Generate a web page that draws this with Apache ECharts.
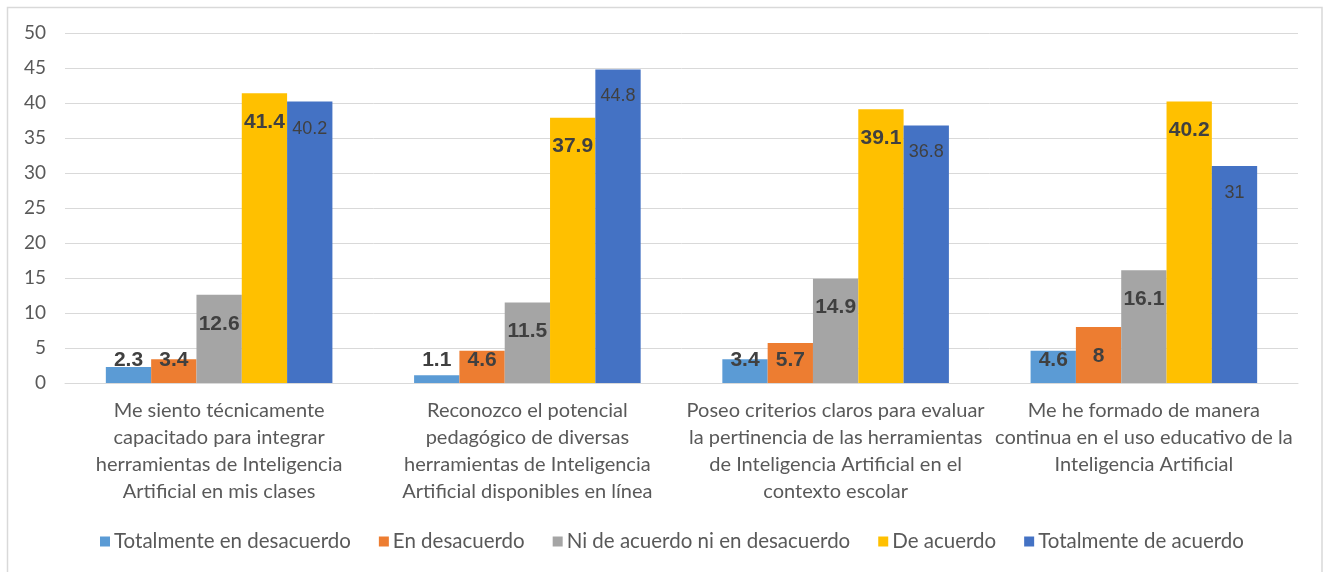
<!DOCTYPE html>
<html>
<head>
<meta charset="utf-8">
<script src="https://cdn.jsdelivr.net/npm/echarts@6/dist/echarts.min.js"></script>
<style>
html,body{margin:0;padding:0;background:#fff;}
#chart{width:1325px;height:572px;}
</style>
</head>
<body>
<div id="chart"></div>
<script>
const categories = [
  "Me siento técnicamente\ncapacitado para integrar\nherramientas de Inteligencia\nArtificial en mis clases",
  "Reconozco el potencial\npedagógico de diversas\nherramientas de Inteligencia\nArtificial disponibles en línea",
  "Poseo criterios claros para evaluar\nla pertinencia de las herramientas\nde Inteligencia Artificial en el\ncontexto escolar",
  "Me he formado de manera\ncontinua en el uso educativo de la\nInteligencia Artificial"
];
const seriesNames = [
  "Totalmente en desacuerdo",
  "En desacuerdo",
  "Ni de acuerdo ni en desacuerdo",
  "De acuerdo",
  "Totalmente de acuerdo"
];
const totalmenteDesacuerdo = [2.3, 1.1, 3.4, 4.6];
const enDesacuerdo = [3.4, 4.6, 5.7, 8];
const niNi = [12.6, 11.5, 14.9, 16.1];
const deAcuerdo = [41.4, 37.9, 39.1, 40.2];
const totalmenteAcuerdo = [40.2, 44.8, 36.8, 31];
const yTicks = {min: 0, max: 50, interval: 5};

const colors = ["#5B9BD5", "#ED7D31", "#A5A5A5", "#FFC000", "#4472C4"];
const allValues = [totalmenteDesacuerdo, enDesacuerdo, niNi, deAcuerdo, totalmenteAcuerdo];

function mkData(vals, dTop, dBottom) {
  return vals.map(v => ({
    value: v,
    label: v >= 7.4 ? {position: 'insideTop', distance: dTop} : {position: 'insideBottom', distance: dBottom}
  }));
}

const series = allValues.map((vals, i) => {
  const bold = i < 4;
  return {
    name: seriesNames[i],
    type: 'bar',
    data: bold ? mkData(vals, 18, 12) : mkData(vals, 16, 12),
    itemStyle: {color: colors[i]},
    barGap: '0%',
    barCategoryGap: '26.5%',
    label: {
      show: true,
      color: '#404040',
      fontFamily: "'Liberation Sans', Arial, sans-serif",
      fontWeight: bold ? 'bold' : 'normal',
      fontSize: bold ? 21 : 18,
      lineHeight: 22
    }
  };
});

const chart = echarts.init(document.getElementById('chart'), null, {renderer: 'canvas'});
chart.setOption({
  animation: false,
  backgroundColor: '#fff',
  graphic: [{
    type: 'rect',
    shape: {x: 7.5, y: 7.5, width: 1314.5, height: 580},
    style: {fill: 'none', stroke: '#d9d9d9', lineWidth: 1.5},
    silent: true
  }],
  grid: {left: 65, right: 27, top: 33, bottom: 189, containLabel: false},
  legend: {
    data: seriesNames,
    top: 526,
    left: 95,
    icon: 'rect',
    itemWidth: 10,
    itemHeight: 10,
    itemGap: 28,
    itemStyle: {borderWidth: 0},
    textStyle: {color: '#595959', fontFamily: 'Lato, sans-serif', fontSize: 20.5, padding: [0, 0, 0, -1]}
  },
  xAxis: {
    type: 'category',
    data: categories,
    axisTick: {show: false},
    axisLine: {lineStyle: {color: '#d9d9d9', width: 1}},
    axisLabel: {
      interval: 0,
      color: '#595959',
      fontFamily: 'Lato, sans-serif',
      fontSize: 20,
      lineHeight: 27,
      margin: 14,
      hideOverlap: false
    }
  },
  yAxis: {
    type: 'value',
    min: yTicks.min,
    max: yTicks.max,
    interval: yTicks.interval,
    axisLine: {show: false},
    axisTick: {show: false},
    splitLine: {lineStyle: {color: '#d9d9d9', width: 1}},
    axisLabel: {color: '#595959', fontFamily: 'Lato, sans-serif', fontSize: 19, margin: 19}
  },
  series: series
});
</script>
</body>
</html>
